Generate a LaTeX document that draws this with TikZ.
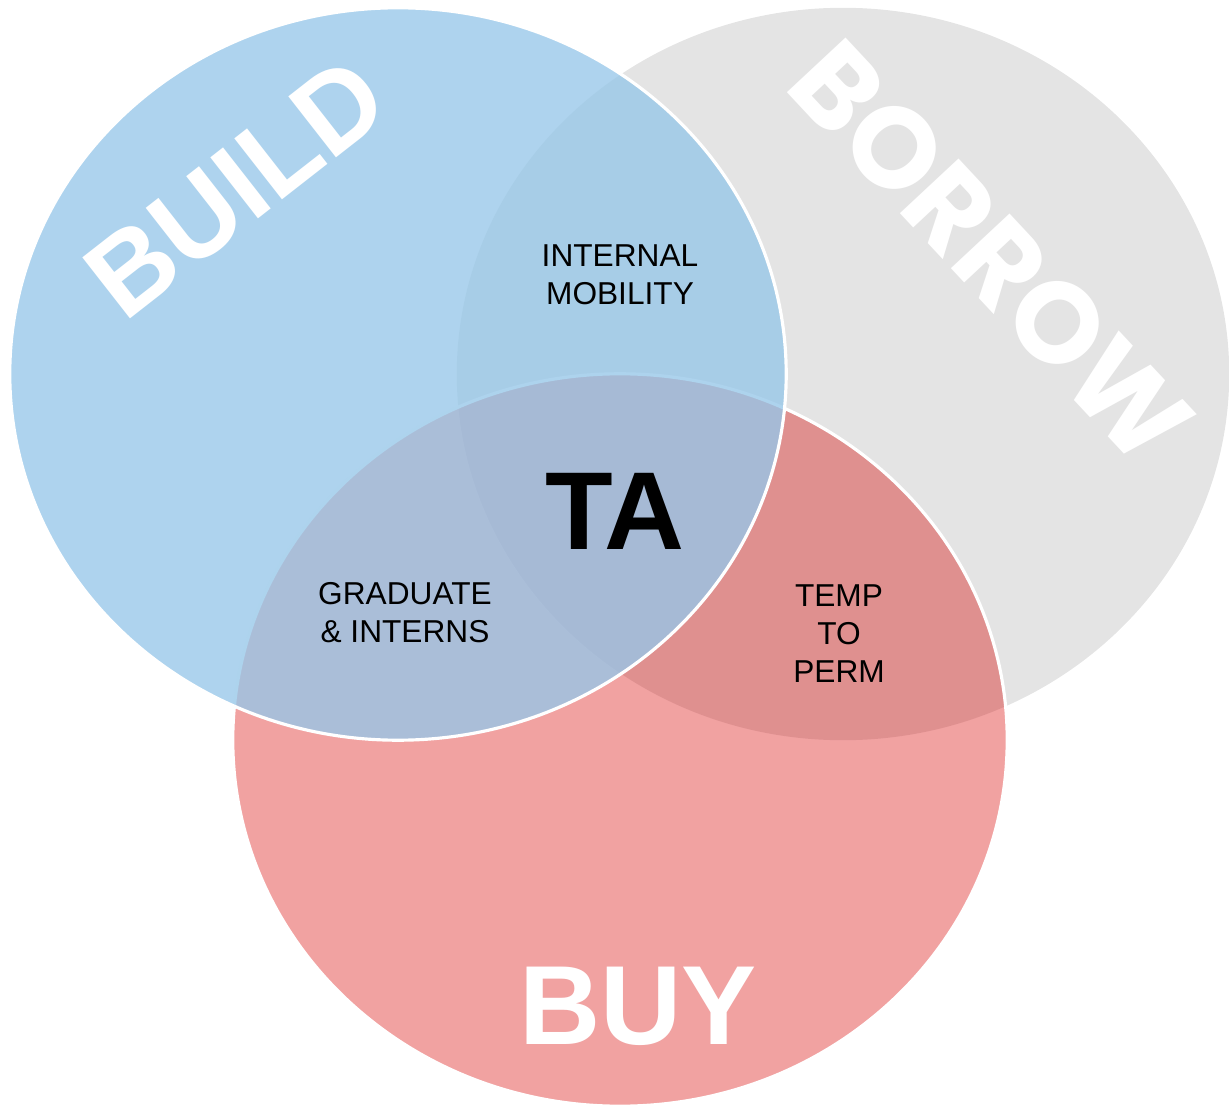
\documentclass[tikz,border=0pt]{standalone}
\usepackage{fontspec}
\setmainfont{Liberation Sans}
\newfontfamily\geofont{Poppins}
\usetikzlibrary{positioning}

\definecolor{buildblue}{RGB}{151,199,233}
\definecolor{borrowgrey}{RGB}{228,228,228}
\definecolor{buyred}{RGB}{216,2,0}

\begin{document}
\begin{tikzpicture}[x=0.01cm,y=-0.01cm,
    ring/.style={draw=white,line width=0.9pt},
    bigword/.style={text=white,inner sep=0pt,font=\fontsize{32}{36}\selectfont\bfseries},
    overlap/.style={align=center,inner sep=0pt,font=\fontsize{9}{10.8}\selectfont}]
        \useasboundingbox (0,0) rectangle (1229,1109);
        % the three sets, grey first, blue on top
        \fill[borrowgrey] (843,374) ellipse [x radius=3.86cm,y radius=3.66cm];
        \filldraw[ring,fill=buyred,fill opacity=.37] (620,740) ellipse [x radius=3.87cm,y radius=3.66cm];
        \filldraw[ring,fill=buildblue,fill opacity=.78] (398,374) ellipse [x radius=3.88cm,y radius=3.66cm];
        % set names
        \node[bigword,rotate=38] (build) at (236,188) {BUILD};
        \node[bigword,rotate=-47,font=\geofont\fontsize{32.5}{36}\selectfont\bfseries] (borrow) at (991,252) {BORROW};
        \node[bigword] (buy) at (638,1006) {BUY};
        % overlaps
        \node[inner sep=0pt,font=\fontsize{31.5}{34}\selectfont\bfseries] (ta) at (615,511) {TA};
        \node[overlap] (mobility) at (620,275) {INTERNAL\\MOBILITY};
        \node[overlap] (graduate) at (405,613) {GRADUATE\\\& INTERNS};
        \node[overlap] (tempperm) at (839,634) {TEMP\\TO\\PERM};
    \end{tikzpicture}
\end{document}
